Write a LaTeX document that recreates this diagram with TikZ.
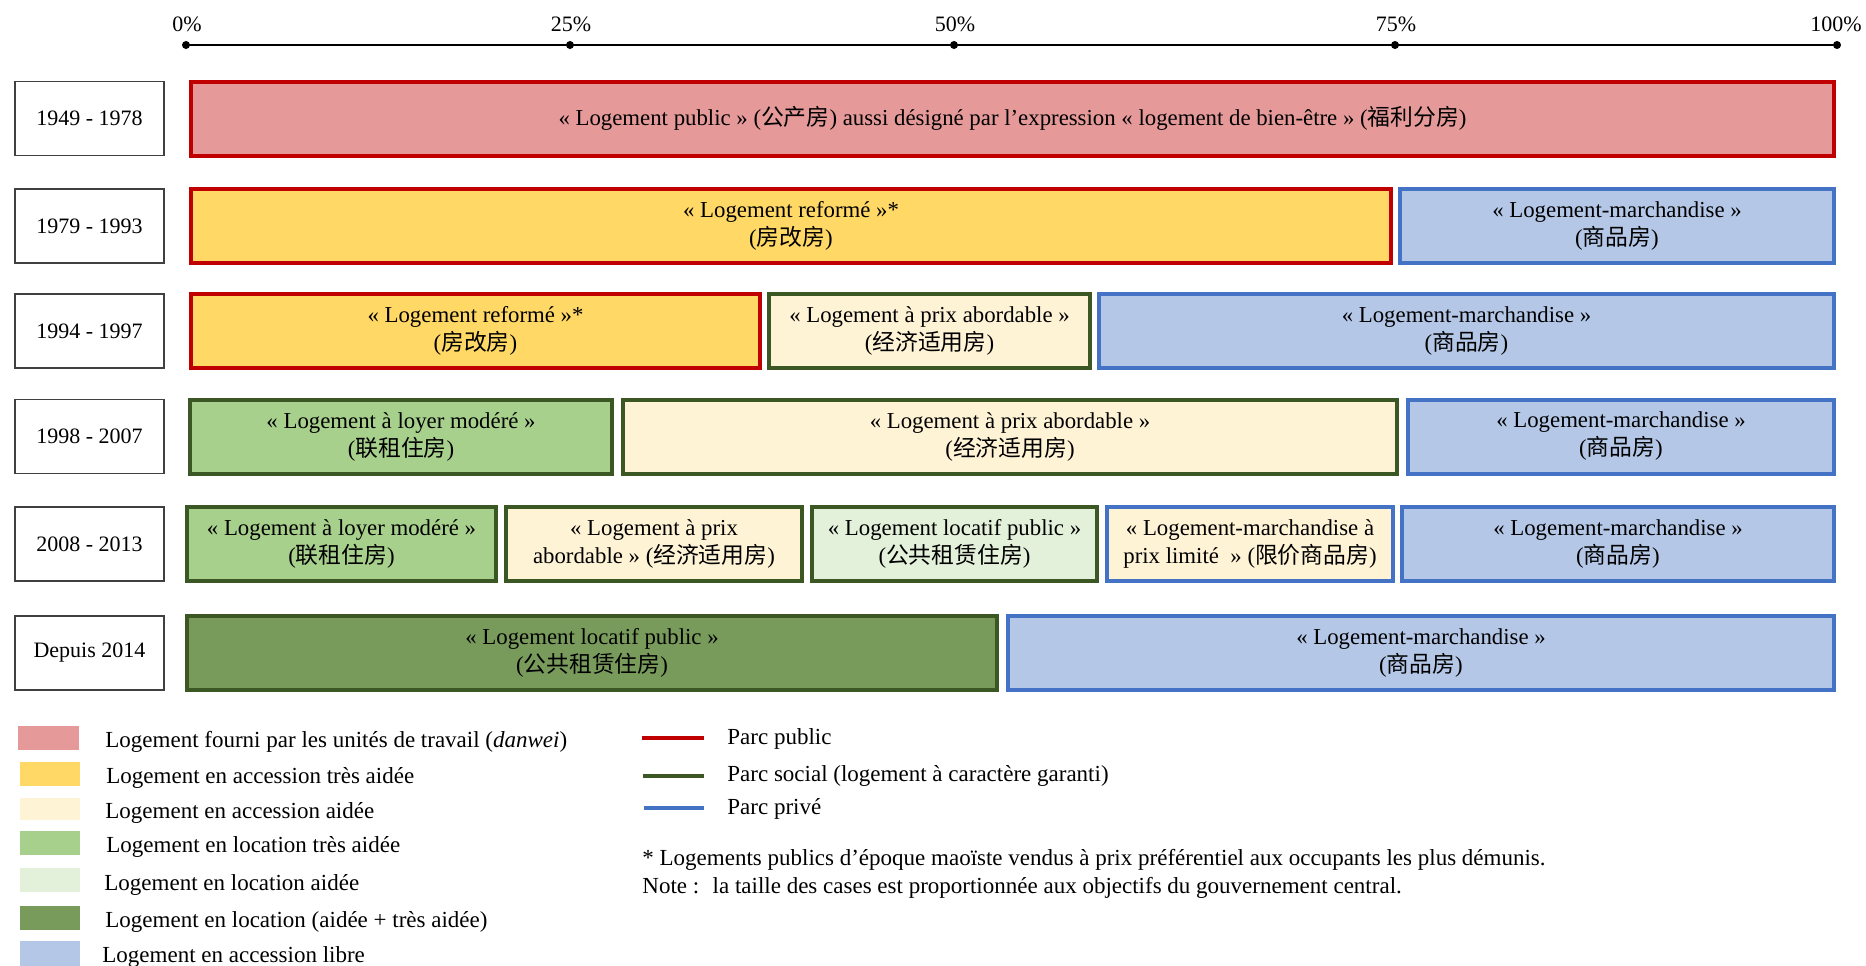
\documentclass[tikz,border=0pt]{standalone}
\usepackage{fontspec}
\setmainfont{Liberation Serif}
\newfontfamily\cjk{Noto Sans CJK SC}
\usepackage{xcolor}
\usetikzlibrary{positioning}

\definecolor{rougebord}{HTML}{C00000}
\definecolor{vertbord}{HTML}{3B5824}
\definecolor{bleubord}{HTML}{4472C4}
\definecolor{rose}{HTML}{E59999}
\definecolor{jaune}{HTML}{FFD866}
\definecolor{beige}{HTML}{FFF3D6}
\definecolor{vertclair}{HTML}{A8D08D}
\definecolor{vertpale}{HTML}{E3F0DA}
\definecolor{vertfonce}{HTML}{789B5C}
\definecolor{bleu}{HTML}{B4C7E7}

\newcommand{\zh}[1]{{\cjk #1}}

\tikzset{
	case/.style={line width=2pt, minimum height=37pt, inner sep=1pt, align=center, font=\fontsize{11.4}{14}\selectfont},
	pub/.style={case, draw=rougebord},
	soc/.style={case, draw=vertbord},
	priv/.style={case, draw=bleubord},
	annee/.style={draw=black!75, line width=0.6pt, minimum width=74.5pt, minimum height=37pt, font=\fontsize{11}{13}\selectfont},
	leg/.style={anchor=west, inner sep=0pt, font=\fontsize{11.5}{14}\selectfont},
	pct/.style={font=\fontsize{11}{13}\selectfont}
}

\begin{document}
\begin{tikzpicture}[x=0.5pt,y=-0.5pt]
			\useasboundingbox (0,0) rectangle (1866,965);
			
			\coordinate (p0) at (186,45);
			\coordinate (p25) at (570,45);
			\coordinate (p50) at (954,45);
			\coordinate (p75) at (1395,45);
			\coordinate (p100) at (1837,45);
			\draw[line width=0.7pt] (p0) -- (p100);
			\foreach \p in {p0,p25,p50,p75,p100}
				\fill (\p) circle (2pt);
			\node[pct] (l0) at (187,24) {0\%};
			\node[pct] (l25) at (571,24) {25\%};
			\node[pct] (l50) at (955,24) {50\%};
			\node[pct] (l75) at (1396,24) {75\%};
			\node[pct] (l100) at (1836,24) {100\%};
			
			\node[annee] (y1) at (89.5,118.5) {1949 - 1978};
			\node[annee] (y2) at (89.5,226) {1979 - 1993};
			\node[annee] (y3) at (89.5,331) {1994 - 1997};
			\node[annee] (y4) at (89.5,436.5) {1998 - 2007};
			\node[annee] (y5) at (89.5,544) {2008 - 2013};
			\node[annee] (y6) at (89.5,653) {Depuis 2014};
			
			\node[pub, fill=rose, minimum width=821.5pt] (a1) at (1012.5,118.5) {« Logement public » (\zh{公产房}) aussi désigné par l’expression « logement de bien-être » (\zh{福利分房})};
			
			\node[pub, fill=jaune, minimum width=600pt] (b1) at (791,226) {« Logement reformé »*\\(\zh{房改房})};
			\node[priv, fill=bleu, minimum width=217pt] (b2) at (1617,226) {« Logement-marchandise »\\(\zh{商品房})};
			
			\node[pub, fill=jaune, minimum width=284.5pt] (c1) at (475.5,331) {« Logement reformé »*\\(\zh{房改房})};
			\node[soc, fill=beige, minimum width=160.5pt] (c2) at (929.5,331) {« Logement à prix abordable »\\(\zh{经济适用房})};
			\node[priv, fill=bleu, minimum width=367.5pt] (c3) at (1466.5,331) {« Logement-marchandise »\\(\zh{商品房})};
			
			\node[soc, fill=vertclair, minimum width=211pt] (d1) at (401,436.5) {« Logement à loyer modéré »\\(\zh{联租住房})};
			\node[soc, fill=beige, minimum width=387pt] (d2) at (1010,436.5) {« Logement à prix abordable »\\(\zh{经济适用房})};
			\node[priv, fill=bleu, minimum width=213pt] (d3) at (1621,436.5) {« Logement-marchandise »\\(\zh{商品房})};
			
			\node[soc, fill=vertclair, minimum width=154.5pt] (e1) at (341.5,544) {« Logement à loyer modéré »\\(\zh{联租住房})};
			\node[soc, fill=beige, minimum width=148pt] (e2) at (654,544) {« Logement à prix\\abordable » (\zh{经济适用房})};
			\node[soc, fill=vertpale, minimum width=142.5pt] (e3) at (954.5,544) {« Logement locatif public »\\(\zh{公共租赁住房})};
			\node[priv, fill=beige, minimum width=143pt] (e4) at (1250,544) {« Logement-marchandise à\\prix limité~ » (\zh{限价商品房})};
			\node[priv, fill=bleu, minimum width=216pt] (e5) at (1618,544) {« Logement-marchandise »\\(\zh{商品房})};
			
			\node[soc, fill=vertfonce, minimum width=405pt] (f1) at (592,653) {« Logement locatif public »\\(\zh{公共租赁住房})};
			\node[priv, fill=bleu, minimum width=413pt] (f2) at (1421,653) {« Logement-marchandise »\\(\zh{商品房})};
			
			\fill[rose] (18,726) rectangle (79,750);
			\fill[jaune] (20,762) rectangle (80,786);
			\fill[beige] (20,798) rectangle (80,820);
			\fill[vertclair] (20,831) rectangle (80,855);
			\fill[vertpale] (20,868) rectangle (80,892);
			\fill[vertfonce] (20,906) rectangle (80,930);
			\fill[bleu] (20,941) rectangle (80,966);
			\node[leg] (k1) at (105,742) {Logement fourni par les unités de travail (\textit{danwei})};
			\node[leg] (k2) at (106,778) {Logement en accession très aidée};
			\node[leg] (k3) at (105,813) {Logement en accession aidée};
			\node[leg] (k4) at (106,847) {Logement en location très aidée};
			\node[leg] (k5) at (104,885) {Logement en location aidée};
			\node[leg] (k6) at (105,922) {Logement en location (aidée + très aidée)};
			\node[leg] (k7) at (102,957) {Logement en accession libre};
			
			\draw[rougebord, line width=2pt] (642,738) -- (704,738);
			\draw[vertbord, line width=2pt] (643,776) -- (704,776);
			\draw[bleubord, line width=2pt] (644,808) -- (704,808);
			\node[leg] (m1) at (727,739) {Parc public};
			\node[leg] (m2) at (727,776) {Parc social (logement à caractère garanti)};
			\node[leg] (m3) at (727,809) {Parc privé};
			
			\node[leg] (n1) at (642,860) {* Logements publics d’époque maoïste vendus à prix préférentiel aux occupants les plus démunis.};
			\node[leg] (n2) at (642,888) {Note :~ la taille des cases est proportionnée aux objectifs du gouvernement central.};
		\end{tikzpicture}
\end{document}
